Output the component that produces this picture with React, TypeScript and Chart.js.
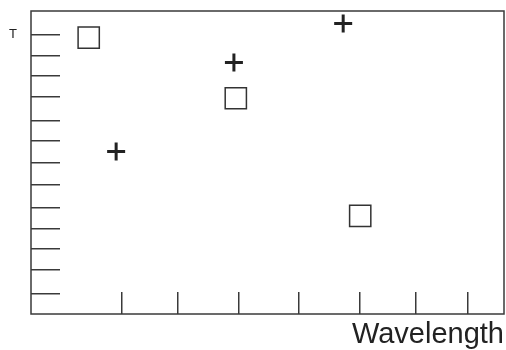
import React, { useEffect, useRef } from "react";
import { Chart, registerables } from "chart.js";

Chart.register(...registerables);

const X_TICKS = [19.2, 31.1, 44.0, 56.7, 69.6, 81.4, 92.4];
const Y_TICKS = [6.6, 14.5, 21.5, 28.1, 35.0, 42.6, 49.8, 57.1, 63.9, 71.7, 78.7, 85.3, 92.3];
const Y_TICK_LABEL = "T";
const X_TITLE = "Wavelength";
const SQUARE_X = [12.2, 43.3, 69.6];
const SQUARE_Y = [91.2, 71.2, 32.4];
const PLUS_X = [18.0, 42.9, 66.0];
const PLUS_Y = [53.6, 83.0, 95.9];

const FONT = "'Liberation Sans', Arial, Helvetica, sans-serif";
const LINE = "#3a3a3a";

const framePlugin = {
  id: "frame",
  beforeDatasetsDraw(chart: any) {
    const { ctx, chartArea } = chart;
    ctx.save();
    ctx.strokeStyle = LINE;
    ctx.lineWidth = 1.5;
    ctx.strokeRect(chartArea.left, chartArea.top, chartArea.right - chartArea.left, chartArea.bottom - chartArea.top);
    ctx.restore();
  },
};

const zeroPad = (s: any) => {
  s.paddingTop = 0;
  s.paddingBottom = 0;
  s.paddingLeft = 0;
  s.paddingRight = 0;
};

export default function App() {
  const ref = useRef<HTMLCanvasElement | null>(null);
  useEffect(() => {
    if (!ref.current) return;
    const topTick = Math.max(...Y_TICKS);
    const chart = new Chart(ref.current, {
      type: "scatter",
      data: {
        datasets: [
          {
            label: "squares",
            data: SQUARE_X.map((x, i) => ({ x, y: SQUARE_Y[i] })),
            pointStyle: "rect",
            pointRadius: 15,
            pointBorderWidth: 1.5,
            borderColor: "#333",
            backgroundColor: "rgba(255,255,255,0)",
          },
          {
            label: "plus",
            data: PLUS_X.map((x, i) => ({ x, y: PLUS_Y[i] })),
            pointStyle: "cross",
            pointRadius: 9,
            pointBorderWidth: 3,
            borderColor: "#222",
            backgroundColor: "#222",
          },
        ],
      },
      options: {
        responsive: false,
        animation: false,
        layout: { autoPadding: false, padding: { top: 11, right: 2, left: 0, bottom: 0 } },
        plugins: { legend: { display: false }, tooltip: { enabled: false } },
        scales: {
          x: {
            type: "linear",
            min: 0,
            max: 100,
            afterBuildTicks: (s: any) => {
              s.ticks = X_TICKS.map((v) => ({ value: v }));
            },
            afterFit: (s: any) => {
              s.height = 36;
              zeroPad(s);
            },
            ticks: { display: false, autoSkip: false },
            grid: { drawOnChartArea: false, drawTicks: true, tickLength: -22, color: LINE, lineWidth: 1.5 },
            border: { display: false },
            title: {
              display: true,
              text: X_TITLE,
              align: "end",
              color: "#222",
              font: { family: FONT, size: 29, lineHeight: 1 },
              padding: { top: 0, bottom: 0.5 },
            },
          },
          y: {
            type: "linear",
            min: 0,
            max: 100,
            afterBuildTicks: (s: any) => {
              s.ticks = Y_TICKS.map((v) => ({ value: v }));
            },
            afterFit: (s: any) => {
              s.width = 31;
              zeroPad(s);
            },
            ticks: {
              autoSkip: false,
              padding: 43,
              color: "#222",
              font: { family: FONT, size: 13 },
              callback: (v: any) => (Number(v) === topTick ? Y_TICK_LABEL : ""),
            },
            grid: { drawOnChartArea: false, drawTicks: true, tickLength: -29, color: LINE, lineWidth: 1.5 },
            border: { display: false },
          },
        },
      },
      plugins: [framePlugin],
    } as any);
    return () => chart.destroy();
  }, []);
  return (
    <canvas
      ref={ref}
      width={506}
      height={350}
      style={{ position: "fixed", top: 0, left: 0, width: 506, height: 350, background: "#fff" }}
    />
  );
}
